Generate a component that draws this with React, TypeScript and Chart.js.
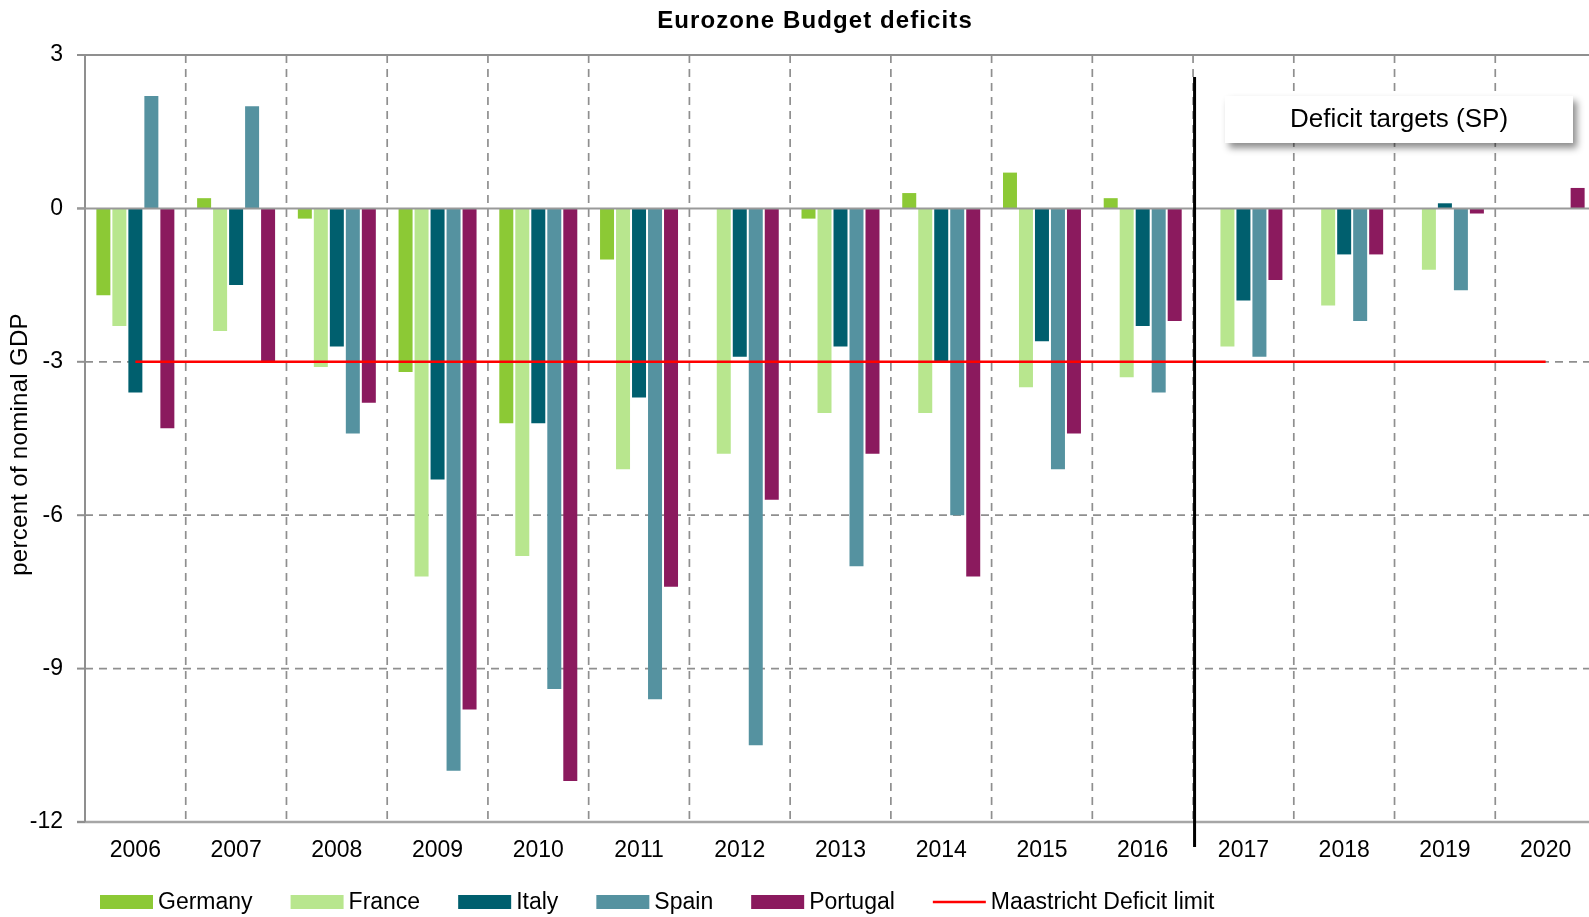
import React, { useEffect, useRef } from 'react';
import { Chart, registerables } from 'chart.js';

Chart.register(...registerables);

const years = ['2006', '2007', '2008', '2009', '2010', '2011', '2012', '2013', '2014', '2015', '2016', '2017', '2018', '2019', '2020'];
const germany = [-1.7, 0.2, -0.2, -3.2, -4.2, -1.0, 0.0, -0.2, 0.3, 0.7, 0.2, null, null, null, null];
const france = [-2.3, -2.4, -3.1, -7.2, -6.8, -5.1, -4.8, -4.0, -4.0, -3.5, -3.3, -2.7, -1.9, -1.2, null];
const italy = [-3.6, -1.5, -2.7, -5.3, -4.2, -3.7, -2.9, -2.7, -3.0, -2.6, -2.3, -1.8, -0.9, 0.1, null];
const spain = [2.2, 2.0, -4.4, -11.0, -9.4, -9.6, -10.5, -7.0, -6.0, -5.1, -3.6, -2.9, -2.2, -1.6, null];
const portugal = [-4.3, -3.0, -3.8, -9.8, -11.2, -7.4, -5.7, -4.8, -7.2, -4.4, -2.2, -1.4, -0.9, -0.1, 0.4];
const maastricht = [-3, -3, -3, -3, -3, -3, -3, -3, -3, -3, -3, -3, -3, -3, -3];
const yTicks = [3, 0, -3, -6, -9, -12];
const dashedTicks = [-3, -6, -9];

const FONT = '"Liberation Sans", Arial, Helvetica, sans-serif';
const GRID = '#8f8f8f';

const COLORS = {
  Germany: '#8CC935',
  France: '#B8E68E',
  Italy: '#005F6E',
  Spain: '#5592A0',
  Portugal: '#8B1A5E',
  Maastricht: '#FF0000',
};

const barSeries: [string, (number | null)[], string][] = [
  ['Germany', germany, COLORS.Germany],
  ['France', france, COLORS.France],
  ['Italy', italy, COLORS.Italy],
  ['Spain', spain, COLORS.Spain],
  ['Portugal', portugal, COLORS.Portugal],
];

const decor = {
  id: 'decor',
  beforeDatasetsDraw(chart: any) {
    const { ctx, chartArea: a, scales } = chart;
    const y = scales.y;
    const n = years.length;
    const cw = (a.right - a.left) / n;
    const line = (x1: number, y1: number, x2: number, y2: number) => {
      ctx.beginPath();
      ctx.moveTo(x1, y1);
      ctx.lineTo(x2, y2);
      ctx.stroke();
    };
    ctx.save();
    ctx.strokeStyle = GRID;
    ctx.lineWidth = 1.7;
    ctx.setLineDash([8, 6]);
    for (let i = 1; i < n; i++) {
      const px = a.left + i * cw;
      line(px, a.top, px, a.bottom);
    }
    for (const v of dashedTicks) {
      const py = y.getPixelForValue(v);
      line(a.left, py, a.right, py);
    }
    ctx.setLineDash([]);
    ctx.lineWidth = 2;
    line(a.left - 8, y.getPixelForValue(3), a.right, y.getPixelForValue(3));
    ctx.strokeStyle = '#a6a6a6';
    ctx.lineWidth = 2.5;
    line(a.left - 8, y.getPixelForValue(-12), a.right, y.getPixelForValue(-12));
    ctx.strokeStyle = GRID;
    ctx.lineWidth = 2;
    for (const v of yTicks) {
      const py = y.getPixelForValue(v);
      line(a.left - 8, py, a.left, py);
    }
    line(a.left, a.top, a.left, a.bottom);
    ctx.restore();
  },
  afterDatasetsDraw(chart: any) {
    const { ctx, chartArea: a, scales } = chart;
    const x = scales.x;
    const y = scales.y;
    ctx.save();
    // zero line
    ctx.strokeStyle = '#999999';
    ctx.lineWidth = 2;
    ctx.beginPath();
    ctx.moveTo(a.left - 8, y.getPixelForValue(0));
    ctx.lineTo(a.right, y.getPixelForValue(0));
    ctx.stroke();
    // separator between actuals and targets
    const sep = (x.getPixelForValue(10) + x.getPixelForValue(11)) / 2 + 1.5;
    ctx.strokeStyle = '#000';
    ctx.lineWidth = 3;
    ctx.beginPath();
    ctx.moveTo(sep, a.top + 22);
    ctx.lineTo(sep, a.bottom + 25);
    ctx.stroke();
    // annotation box
    ctx.save();
    ctx.shadowColor = 'rgba(0,0,0,0.45)';
    ctx.shadowBlur = 7;
    ctx.shadowOffsetX = 4;
    ctx.shadowOffsetY = 5;
    ctx.fillStyle = '#fff';
    ctx.fillRect(1225, 96, 348, 47);
    ctx.restore();
    ctx.fillStyle = '#000';
    ctx.font = `26px ${FONT}`;
    ctx.textAlign = 'center';
    ctx.textBaseline = 'middle';
    ctx.fillText('Deficit targets (SP)', 1399, 120);
    ctx.restore();
  },
  afterDraw(chart: any) {
    const { ctx, chartArea: a } = chart;
    ctx.save();
    // title
    ctx.fillStyle = '#000';
    ctx.font = `bold 24px ${FONT}`;
    (ctx as any).letterSpacing = '1.1px';
    ctx.textAlign = 'center';
    ctx.textBaseline = 'middle';
    ctx.fillText('Eurozone Budget deficits', 815, 21);
    // y axis title
    ctx.save();
    (ctx as any).letterSpacing = '0.3px';
    ctx.font = `24px ${FONT}`;
    ctx.translate(20, (a.top + a.bottom) / 2 + 6);
    ctx.rotate(-Math.PI / 2);
    ctx.fillText('percent of nominal GDP', 0, 0);
    ctx.restore();
    (ctx as any).letterSpacing = '0px';
    // legend
    ctx.font = `23px ${FONT}`;
    ctx.textAlign = 'left';
    ctx.textBaseline = 'middle';
    const ly = 902;
    let lx = 100;
    const items: [string, string, boolean][] = [
      ...barSeries.map(([name, , color]) => [name, color, false] as [string, string, boolean]),
      ['Maastricht Deficit limit', COLORS.Maastricht, true],
    ];
    for (const [name, color, isLine] of items) {
      if (isLine) {
        ctx.strokeStyle = color;
        ctx.lineWidth = 2.5;
        ctx.beginPath();
        ctx.moveTo(lx, ly);
        ctx.lineTo(lx + 53, ly);
        ctx.stroke();
      } else {
        ctx.fillStyle = color;
        ctx.fillRect(lx, ly - 7, 53, 14);
      }
      ctx.fillStyle = '#000';
      ctx.fillText(name, lx + 58, ly + 1);
      lx += 58 + ctx.measureText(name).width + 38;
    }
    ctx.restore();
  },
};

export default function App() {
  const ref = useRef<HTMLCanvasElement | null>(null);
  useEffect(() => {
    if (!ref.current) return;
    const datasets: any[] = [
      {
        type: 'line',
        label: 'Maastricht Deficit limit',
        data: maastricht,
        borderColor: COLORS.Maastricht,
        borderWidth: 2.5,
        pointRadius: 0,
        fill: false,
        order: -1,
      },
      ...barSeries.map(([name, data, color]) => ({
        type: 'bar',
        label: name,
        data,
        backgroundColor: color,
        borderWidth: 0,
        categoryPercentage: 0.794,
        barPercentage: 0.875,
        order: 1,
      })),
    ];
    const chart = new Chart(ref.current, {
      type: 'bar',
      data: { labels: years, datasets },
      options: {
        responsive: false,
        animation: false,
        layout: { padding: { top: 55, left: 0, right: 0, bottom: 0 } },
        plugins: {
          legend: { display: false },
          title: { display: false },
          tooltip: { enabled: false },
        },
        scales: {
          x: {
            grid: { display: false },
            border: { display: false },
            ticks: {
              font: { family: FONT, size: 23 },
              color: '#000',
              padding: 7,
              maxRotation: 0,
              autoSkip: false,
            },
            afterFit: (s: any) => {
              s.height = 95;
            },
          },
          y: {
            min: -12,
            max: 3,
            grid: { display: false },
            border: { display: false },
            ticks: {
              stepSize: 3,
              font: { family: FONT, size: 23 },
              color: '#000',
              padding: 14,
            },
            afterFit: (s: any) => {
              s.width = 85;
            },
          },
        },
      },
      plugins: [decor],
    } as any);
    return () => chart.destroy();
  }, []);
  return (
    <div style={{ position: 'fixed', left: 0, top: 0, width: 1589, height: 917, overflow: 'hidden', background: '#fff' }}>
      <canvas ref={ref} width={1596} height={917} style={{ display: 'block', width: 1596, height: 917 }} />
    </div>
  );
}
